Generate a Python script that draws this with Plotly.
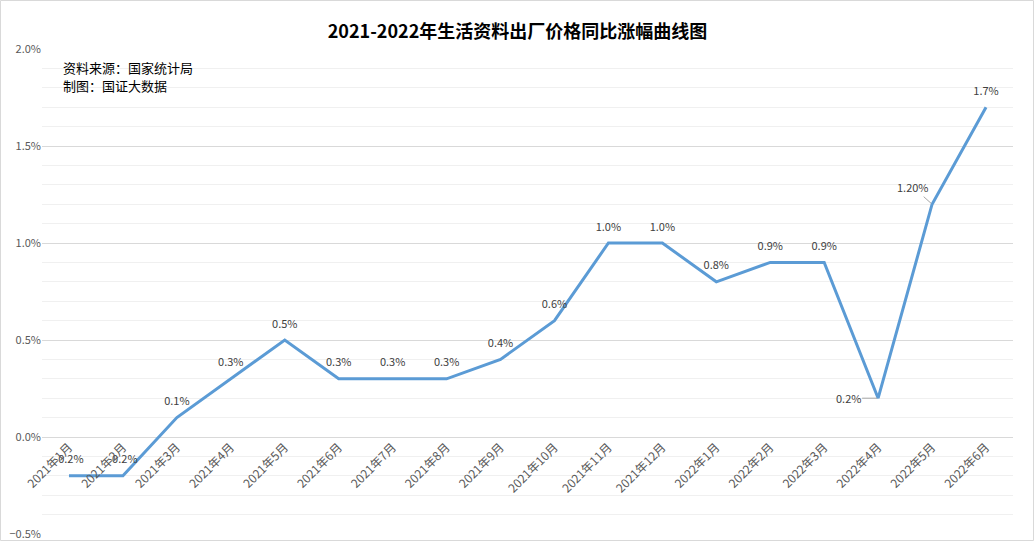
import plotly.graph_objects as go

months = ["2021年1月", "2021年2月", "2021年3月", "2021年4月", "2021年5月", "2021年6月",
          "2021年7月", "2021年8月", "2021年9月", "2021年10月", "2021年11月", "2021年12月",
          "2022年1月", "2022年2月", "2022年3月", "2022年4月", "2022年5月", "2022年6月"]
values = [-0.2, -0.2, 0.1, 0.3, 0.5, 0.3, 0.3, 0.3, 0.4, 0.6, 1.0, 1.0,
          0.8, 0.9, 0.9, 0.2, 1.2, 1.7]
labels = ["-0.2%", "-0.2%", "0.1%", "0.3%", "0.5%", "0.3%", "0.3%", "0.3%", "0.4%", "0.6%",
          "1.0%", "1.0%", "0.8%", "0.9%", "0.9%", "0.2%", "1.20%", "1.7%"]
notes = ["资料来源：国家统计局", "制图：国证大数据"]
# labels drawn with leader lines (index: (ax, ay) offset)
leader = {15: (-30, 0), 16: (-19, -17)}

W, H = 1035, 542
ML, MR, MT, MB = 42, 22, 49, 8
PW, PH = W - ML - MR, H - MT - MB
YMIN, YMAX = -0.5, 2.0

FONT = "Noto Sans CJK SC"
trace_text = [("" if i in leader else t) for i, t in enumerate(labels)]

fig = go.Figure()
fig.add_trace(go.Scatter(
    x=months, y=values, mode="lines+markers+text",
    line=dict(color="#5B9BD5", width=3),
    marker=dict(size=14, opacity=0),
    text=trace_text, textposition="top center",
    textfont=dict(family=FONT, size=11, color="#404040"),
    hoverinfo="x+y", showlegend=False, cliponaxis=False,
))

for i, (ax, ay) in leader.items():
    fig.add_annotation(x=months[i], y=values[i], text=labels[i], showarrow=True,
                       arrowhead=0, arrowwidth=1, arrowcolor="#A6A6A6",
                       ax=ax, ay=ay, standoff=1,
                       font=dict(family=FONT, size=11, color="#404040"))

for k, note in enumerate(notes):
    ypix = 68 + 18 * k
    fig.add_annotation(xref="paper", yref="paper", x=(61 - ML) / PW,
                       y=1 - (ypix - MT) / PH, xanchor="left", yanchor="middle",
                       text=note, showarrow=False, align="left",
                       font=dict(family=FONT, size=13, color="#000000"))

zero_pos = (0 - YMIN) / (YMAX - YMIN)

fig.update_layout(
    width=W, height=H,
    margin=dict(l=ML, r=MR, t=MT, b=MB),
    paper_bgcolor="white", plot_bgcolor="white",
    title=dict(text="<b>2021-2022年生活资料出厂价格同比涨幅曲线图</b>", x=0.5, xanchor="center",
               y=1 - 32 / H, yanchor="middle",
               font=dict(family=FONT, size=18, color="#000000")),
    xaxis=dict(type="category", anchor="free", position=zero_pos, showgrid=False,
               range=[-0.5, len(months) - 0.5], automargin=False,
               showline=False, ticks="", tickangle=-45,
               tickfont=dict(family=FONT, size=12, color="#595959"), zeroline=False),
    yaxis=dict(range=[YMIN, YMAX], dtick=0.5, tickformat=".1f", ticksuffix="%",
               showgrid=True, gridcolor="#D9D9D9", gridwidth=1, zeroline=False,
               showline=False, ticks="", automargin=False,
               tickfont=dict(family=FONT, size=11, color="#595959"),
               minor=dict(dtick=0.1, showgrid=True, gridcolor="#F0F0F0", gridwidth=1)),
    shapes=[dict(type="rect", xref="paper", yref="paper",
                 x0=-(ML - 0.5) / PW, x1=1 + (MR - 1.5) / PW,
                 y0=-(MB - 1.5) / PH, y1=1 + (MT - 0.5) / PH,
                 line=dict(color="#D9D9D9", width=1), layer="below")],
)

fig.write_html("out.html")
